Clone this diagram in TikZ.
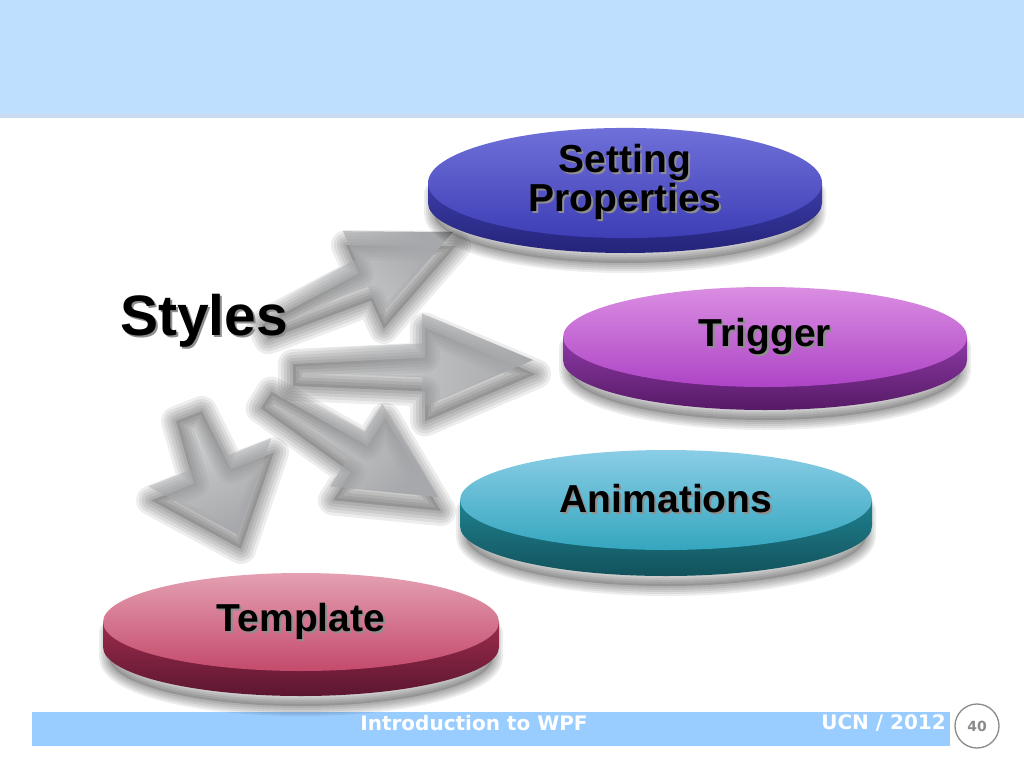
\documentclass[tikz,border=0pt]{standalone}
\usepackage{fontspec}
\setmainfont{Liberation Sans}
\newfontfamily\footfont{DejaVu Sans}
\usepackage{tikz}
\usetikzlibrary{calc, positioning, shapes.geometric, fadings}

\definecolor{bandblue}{HTML}{BFDFFF}
\definecolor{bandedge}{HTML}{C9DBF0}
\definecolor{footblue}{HTML}{99CCFF}
\definecolor{arrowgray}{HTML}{A6A8AB}
\definecolor{txtshadow}{HTML}{8E8E8E}
\definecolor{pagegray}{HTML}{8A8A8A}
\definecolor{sptop}{HTML}{7070DA}\definecolor{spbot}{HTML}{3E3EB6}
\definecolor{spside}{HTML}{3C3CA8}\definecolor{spdark}{HTML}{24247A}
\definecolor{trtop}{HTML}{DA8EE2}\definecolor{trbot}{HTML}{AE44C6}
\definecolor{trside}{HTML}{8E3AA6}\definecolor{trdark}{HTML}{561A66}
\definecolor{antop}{HTML}{8ACDE6}\definecolor{anbot}{HTML}{34A6BE}
\definecolor{anside}{HTML}{1F8290}\definecolor{andark}{HTML}{12525C}
\definecolor{tetop}{HTML}{E4A0B2}\definecolor{tebot}{HTML}{C44A6C}
\definecolor{teside}{HTML}{9C2C4C}\definecolor{tedark}{HTML}{5C1630}

\tikzfading[name=tailfade, left color=transparent!100, middle color=transparent!0, right color=transparent!0]

% black text with a grey copy behind it
\newcommand\shtext[1]{\makebox[0pt][l]{\kern2pt\raisebox{-2pt}{\textcolor{txtshadow}{#1}}}#1}

% soft shadow: canvas shift, spread, path
\newcommand\softshadow[3]{%
  \fill[black, opacity=0.14, transform canvas={shift={#1}}] #3;
  \foreach \w in {1,...,5}
    \draw[black, opacity=0.07, line width=\w*#2, line join=round, transform canvas={shift={#1}}] #3;
}

% block arrow: tail, tip, tail half width, neck half width, head half width, head length, angle
\newcommand\blockarrow[7]{%
  \coordinate (neck) at ($(#2)!#6!(#1)$);
  \def\arrowshape{($(#1)!#3!90:(#2)$) -- ($(neck)!#4!90:(#2)$) -- ($(neck)!#5!90:(#2)$) -- (#2)
    -- ($(neck)!#5!-90:(#2)$) -- ($(neck)!#4!-90:(#2)$) -- ($(#1)!#3!-90:(#2)$) -- cycle}%
  \softshadow{(3pt,-14pt)}{6pt}{\arrowshape}
  \fill[arrow body, fading angle=#7] \arrowshape;
}

% disc side: centre, x radius, y radius, thickness
\newcommand\discside[4]{%
  \def\sideshape{($(#1)+(-#2+6,0)$) -- ++(0,#4) arc[start angle=180, end angle=0, x radius=#2-6, y radius=#3] -- ++(0,-#4) -- cycle}%
  \softshadow{(0pt,-10pt)}{4pt}{\sideshape}
  \shade[side colors] ($(#1)+(-#2,0)$) -- ++(0,#4) arc[start angle=180, end angle=0, x radius=#2, y radius=#3] -- ++(0,-#4) -- cycle;
}

\tikzset{
  arrow body/.style={arrowgray, path fading=tailfade},
  disc/.style={ellipse, inner sep=0pt, outer sep=0pt, align=center, font=\bfseries\fontsize{39}{37}\selectfont},
  side colors/.style={top color=#1side, bottom color=#1dark},
  foot text/.style={text=white, font=\footfont\bfseries\fontsize{20}{20}\selectfont, inner sep=0pt}
}

\begin{document}
\begin{tikzpicture}[x=1pt, y=-1pt]
  \useasboundingbox (0,0) rectangle (1024,768);
  \fill[white] (0,0) rectangle (1024,768);
  % title band and footer
  \fill[bandblue] (0,0) rectangle (1024,118);
  \fill[bandedge] (0,114) rectangle (1024,118);
  \fill[footblue] (32,712) rectangle (950,746);

  % arrows
  \coordinate (t1) at (262,318); \coordinate (h1) at (453,232);
  \coordinate (t2) at (290,361); \coordinate (h2) at (533,360);
  \coordinate (t3) at (263,386); \coordinate (h3) at (438,497);
  \coordinate (t4) at (186,402); \coordinate (h4) at (238,535);
  \blockarrow{t4}{h4}{14pt}{20pt}{66pt}{78pt}{-69}
  \blockarrow{t3}{h3}{10pt}{16pt}{49pt}{97pt}{-32}
  \blockarrow{t2}{h2}{11pt}{17pt}{47pt}{111pt}{0}
  \blockarrow{t1}{h1}{8pt}{15pt}{46pt}{100pt}{24}

  % discs
  \coordinate (c1) at (625,183);
  \coordinate (c2) at (765,337);
  \coordinate (c3) at (666,500);
  \coordinate (c4) at (301,622);
  \tikzset{side colors/.default=sp}\discside{c1}{197}{50}{20}
  \tikzset{side colors/.default=tr}\discside{c2}{202}{50}{23}
  \tikzset{side colors/.default=an}\discside{c3}{206}{50}{26}
  \tikzset{side colors/.default=te}\discside{c4}{198}{49}{25}

  \node[disc, minimum width=394, minimum height=100, top color=sptop, bottom color=spbot]
    (setprop) at (c1) {\shtext{Setting}\\\shtext{Properties}};
  \node[disc, minimum width=404, minimum height=100, top color=trtop, bottom color=trbot]
    (trigger) at (c2) {\shtext{Trigger}};
  \node[disc, minimum width=412, minimum height=100, top color=antop, bottom color=anbot]
    (anim) at (c3) {\shtext{Animations}};
  \node[disc, minimum width=396, minimum height=98, top color=tetop, bottom color=tebot]
    (templ) at (c4) {\shtext{Template}};

  \node[font=\bfseries\fontsize{57}{57}\selectfont] (styles) at (204,322) {\shtext{Styles}};

  % footer texts
  \node[foot text] (ftitle) at (474,723) {Introduction to WPF};
  \node[foot text, anchor=east] (fyear) at (946,723) {UCN / 2012};
  \node[circle, draw=pagegray, line width=1.3pt, minimum size=44, inner sep=0pt, text=pagegray,
    font=\footfont\bfseries\fontsize{14}{14}\selectfont] (pageno) at (977,726) {40};
\end{tikzpicture}
\end{document}
